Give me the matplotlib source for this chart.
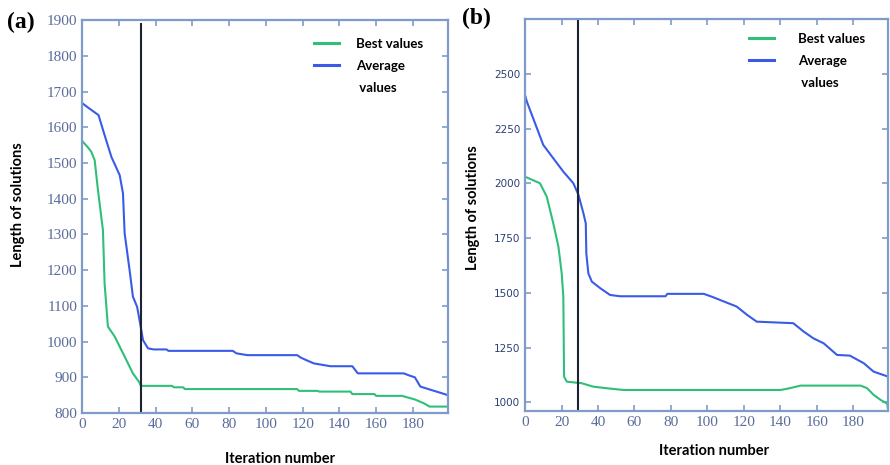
import matplotlib
matplotlib.use("Agg")
import matplotlib.pyplot as plt
from matplotlib.lines import Line2D

# ---------------- data ----------------
# Panel (a)
it_avg_a = [0, 2, 9, 12, 16, 20.5, 22.3, 23.2, 25.9, 27.7, 30, 31.3, 33.2, 35.9, 39, 46, 47,
            82, 84, 90, 117, 119, 122, 126, 135, 147, 150, 175, 178, 181, 184, 199]
avg_a = [1668, 1660, 1634, 1583, 1517, 1466, 1415, 1303, 1200, 1126, 1097, 1060, 1004, 981, 978, 978, 974,
         974, 967, 962, 962, 955, 948, 939, 931, 931, 911, 911, 905, 900, 874, 850]
it_best_a = [0, 3, 5, 6.9, 8.7, 11.4, 12.3, 14.1, 17.8, 23.2, 27.7, 31.3, 32, 49, 50, 55, 56,
             117, 118, 128, 129, 146, 147, 159, 160, 174, 181, 186, 189, 199]
best_a = [1562, 1545, 1532, 1508, 1424, 1312, 1163, 1042, 1014, 958, 911, 885, 876, 876, 872, 872, 867,
          867, 862, 862, 860, 860, 853, 853, 848, 848, 838, 827, 818, 818]
vline_a = 32

# Panel (b)
it_avg_b = [0, 1, 5.5, 10, 15.5, 21, 26.5, 29.3, 32, 33.3, 33.6, 34.7, 36.6, 41.2, 46.6, 52, 77, 78,
            98, 103, 109, 116, 121.7, 127, 147, 152.7, 158, 163.7, 171, 178, 185.7, 191, 199]
avg_b = [2404, 2374, 2275, 2176, 2115, 2054, 2001, 1948, 1864, 1818, 1681, 1590, 1552, 1522, 1491, 1485, 1485, 1496,
         1496, 1481, 1461, 1438, 1400, 1369, 1362, 1324, 1293, 1270, 1217, 1214, 1179, 1141, 1118]
it_best_b = [0, 8.2, 11.9, 15.5, 18.3, 20.1, 21, 21.4, 22.9, 31, 37.5, 44.8, 54, 140, 145, 151,
             184, 187.5, 191, 195, 198.5, 199]
best_b = [2031, 2001, 1940, 1818, 1712, 1590, 1483, 1118, 1095, 1088, 1072, 1065, 1057, 1057, 1065, 1077,
          1077, 1065, 1035, 1011, 995, 965]
vline_b = 29

xticks = [0, 20, 40, 60, 80, 100, 120, 140, 160, 180]
yticks_a = [800, 900, 1000, 1100, 1200, 1300, 1400, 1500, 1600, 1700, 1800, 1900]
yticks_b = [1000, 1250, 1500, 1750, 2000, 2250, 2500]

legend_labels = ["Best values", "Average", " values"]

# ---------------- style ----------------
GREEN = "#2fbf78"
BLUE = "#3a5be8"
SPINE = "#7f9cc9"
TICKC = "#5a6c9a"
LABEL_FONT = ["Lato", "DejaVu Sans"]
SERIF = ["Liberation Serif", "DejaVu Serif"]

fig = plt.figure(figsize=(8.9, 4.65), dpi=100)
ax_a = fig.add_axes([0.0921, 0.1118, 0.4112, 0.845])
ax_b = fig.add_axes([0.5899, 0.1161, 0.4080, 0.843])


def style(ax, yticks, ylim, ytick_font, ytick_size, ytick_color):
    ax.set_xlim(0, 199)
    ax.set_ylim(*ylim)
    ax.set_xticks(xticks)
    ax.set_yticks(yticks)
    for s in ax.spines.values():
        s.set_color(SPINE)
        s.set_linewidth(1.6)
    ax.tick_params(direction="in", top=True, right=True, length=4, width=1.2, color=SPINE)
    for lab in ax.get_xticklabels():
        lab.set_family(SERIF)
        lab.set_fontsize(11)
        lab.set_color(TICKC)
    for lab in ax.get_yticklabels():
        lab.set_family(ytick_font)
        lab.set_fontsize(ytick_size)
        lab.set_color(ytick_color)
    ax.set_xlabel("Iteration number", fontsize=10.5, fontweight="bold", family=LABEL_FONT)
    ax.set_ylabel("Length of solutions", fontsize=10.5, fontweight="bold", family=LABEL_FONT)


def add_legend(ax, anchor, textpad):
    handles = [Line2D([], [], color=GREEN, lw=2.2),
               Line2D([], [], color=BLUE, lw=2.2),
               Line2D([], [], color="none")]
    ax.legend(handles, legend_labels, loc="upper right", bbox_to_anchor=anchor, frameon=False,
              prop={"family": LABEL_FONT, "weight": "bold", "size": 9.5},
              handlelength=1.9, handletextpad=textpad, labelspacing=0.75)


# Panel (a)
ax_a.plot(it_best_a, best_a, color=GREEN, lw=1.5)
ax_a.plot(it_avg_a, avg_a, color=BLUE, lw=1.5)
ax_a.axvline(vline_a, ymax=0.99, color="#1c2333", lw=1.5)
style(ax_a, yticks_a, (800, 1900), SERIF, 11, TICKC)
ax_a.yaxis.set_label_coords(-0.155, 0.53)
ax_a.xaxis.set_label_coords(0.54, -0.10)
add_legend(ax_a, (0.965, 0.985), 1.3)

# Panel (b)
ax_b.plot(it_best_b, best_b, color=GREEN, lw=1.5)
ax_b.plot(it_avg_b, avg_b, color=BLUE, lw=1.5)
ax_b.axvline(vline_b, color="#1c2333", lw=1.5)
style(ax_b, yticks_b, (961, 2751), ["DejaVu Sans"], 7.5, "#2b3f70")
ax_b.yaxis.set_label_coords(-0.125, 0.52)
ax_b.xaxis.set_label_coords(0.52, -0.085)
add_legend(ax_b, (0.97, 0.995), 1.8)

fig.text(0.008, 0.952, "(a)", fontsize=17, fontweight="bold", family=SERIF, va="center")
fig.text(0.519, 0.960, "(b)", fontsize=17, fontweight="bold", family=SERIF, va="center")

fig.savefig("out.png", dpi=100)
